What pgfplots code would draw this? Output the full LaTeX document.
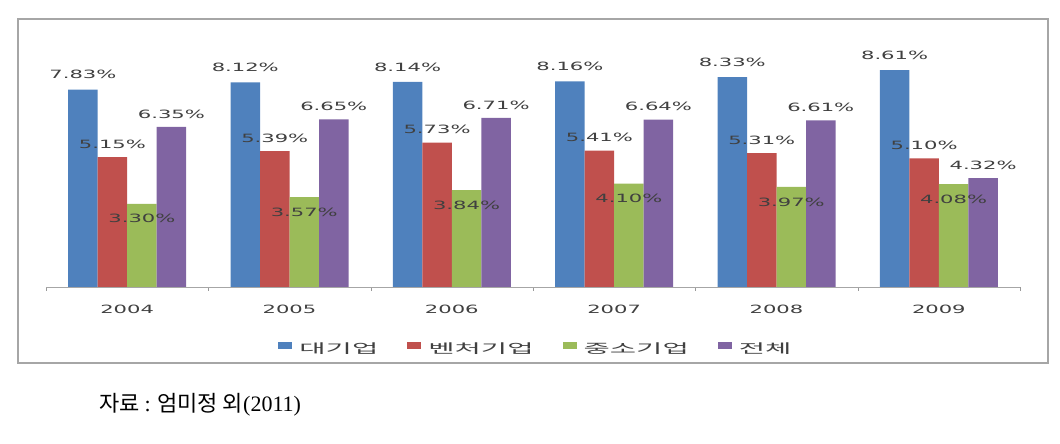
\documentclass[border=0pt]{standalone}
\usepackage{pgfplots}
\pgfplotsset{compat=1.18}
\usepackage{fontspec}
\setmainfont{DejaVu Sans}
\newfontfamily\kr{Noto Sans CJK KR}
\newfontfamily\srf{Liberation Serif}
\definecolor{cBlue}{HTML}{4F81BD}
\definecolor{cRed}{HTML}{C0504D}
\definecolor{cGreen}{HTML}{9BBB59}
\definecolor{cPurple}{HTML}{8064A2}
\newcommand{\wide}[1]{\scalebox{1.85}[1]{#1}}
\newcommand{\legtext}[1]{\hspace{5pt}\scalebox{2.2}[1]{#1}}

\begin{document}
\begin{tikzpicture}[x=1pt,y=1pt]
\path[use as bounding box] (0,0) rectangle (1060,444);
\draw[black!35, line width=1.5pt] (18,81) rectangle (1048,425);
\begin{axis}[
  at={(46pt,157pt)}, anchor=south west,
  scale only axis, width=974pt, height=252pt,
  xmin=-0.5, xmax=5.5, ymin=0, ymax=10,
  axis y line=none, axis x line*=bottom,
  x axis line style={-, black!35, line width=0.8pt},
  xtick={0,...,5},
  xticklabels={\wide{2004},\wide{2005},\wide{2006},\wide{2007},\wide{2008},\wide{2009}},
  major tick length=0pt,
  minor xtick={-0.5,0.5,1.5,2.5,3.5,4.5,5.5},
  minor tick length=4pt, tick align=outside,
  minor tick style={black!40},
  xticklabel style={font=\fontsize{11.4}{13}\selectfont, text=black!75, yshift=-15pt},
  ybar=0pt, bar width=29.5pt,
  /pgf/number format/assume math mode=true,
  nodes near coords={\wide{\pgfmathprintnumber[fixed,fixed zerofill,precision=2]{\pgfplotspointmeta}\%}},
  every node near coord/.append style={font=\fontsize{11.4}{13}\selectfont, text=black!75, anchor=center},
  legend style={at={(rel axis cs:0.503,-0.245)}, anchor=center, draw=none, fill=none,
    legend columns=4, font=\kr\fontsize{13}{15}\selectfont, text=black!75,
    /tikz/every even column/.append style={column sep=27pt}},
]
\addplot[fill=cBlue, draw=none, every node near coord/.append style={yshift=15pt},
  legend image code/.code={\fill[cBlue] (0pt,0pt) rectangle (14pt,7pt);}]
  coordinates {(0,7.83) (1,8.12) (2,8.14) (3,8.16) (4,8.33) (5,8.61)};
\addlegendentry{\legtext{대기업}}
\addplot[fill=cRed, draw=none, every node near coord/.append style={yshift=13pt},
  legend image code/.code={\fill[cRed] (0pt,0pt) rectangle (14pt,7pt);}]
  coordinates {(0,5.15) (1,5.39) (2,5.73) (3,5.41) (4,5.31) (5,5.10)};
\addlegendentry{\legtext{벤처기업}}
\addplot[fill=cGreen, draw=none, every node near coord/.append style={yshift=-15pt},
  legend image code/.code={\fill[cGreen] (0pt,0pt) rectangle (14pt,7pt);}]
  coordinates {(0,3.30) (1,3.57) (2,3.84) (3,4.10) (4,3.97) (5,4.08)};
\addlegendentry{\legtext{중소기업}}
\addplot[fill=cPurple, draw=none, every node near coord/.append style={yshift=13pt},
  legend image code/.code={\fill[cPurple] (0pt,0pt) rectangle (14pt,7pt);}]
  coordinates {(0,6.35) (1,6.65) (2,6.71) (3,6.64) (4,6.61) (5,4.32)};
\addlegendentry{\legtext{전체}}
\end{axis}
\node[anchor=west, inner sep=0pt, font=\fontsize{22}{26}\selectfont] at (99,39)
  {\kr 자료 {\srf :} 엄미정 외{\srf(2011)}};
\end{tikzpicture}
\end{document}
